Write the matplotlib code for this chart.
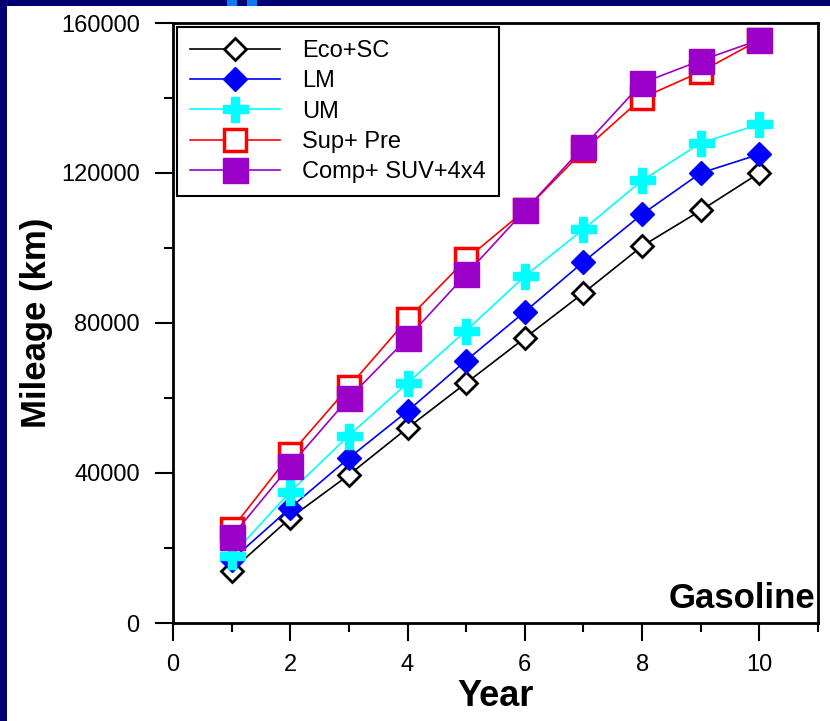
import matplotlib
matplotlib.use("Agg")
import matplotlib.pyplot as plt
from matplotlib.patches import Rectangle
from matplotlib.ticker import MultipleLocator

plt.rcParams['font.family'] = ['Liberation Sans', 'DejaVu Sans']

# Cumulative mileage by vehicle segment (gasoline)
years = [1, 2, 3, 4, 5, 6, 7, 8, 9, 10]
eco_sc = [14000, 28000, 39500, 52000, 64000, 76000, 88000, 100500, 110000, 120000]
lm = [16800, 30700, 44000, 56500, 70000, 83000, 96300, 109000, 120000, 125000]
um = [18000, 35000, 50000, 64000, 78000, 92500, 105000, 118000, 128000, 133000]
sup_pre = [25000, 45000, 63000, 81000, 97000, 110000, 126000, 140000, 147000, 155500]
comp_suv = [23000, 42000, 60000, 76000, 93000, 110000, 127000, 144000, 150000, 155500]

labels = ['Eco+SC', 'LM', 'UM', 'Sup+ Pre', 'Comp+ SUV+4x4']
x_ticks = [0, 2, 4, 6, 8, 10]
y_ticks = [0, 40000, 80000, 120000, 160000]

W, H = 830, 721
fig = plt.figure(figsize=(W / 100, H / 100), dpi=100, facecolor='#000070')

# white slide panel with navy frame strips and small accent squares
fig.patches.append(Rectangle((7 / W, 0), 1, (H - 6) / H, transform=fig.transFigure,
                             facecolor='white', edgecolor='none', zorder=-10))
for x0 in (227, 247):
    fig.patches.append(Rectangle((x0 / W, (H - 6) / H), 10 / W, 6 / H,
                                 transform=fig.transFigure,
                                 facecolor='#0a7cf0', edgecolor='none', zorder=-5))

ax = fig.add_axes([173 / W, 1 - 623 / H, (818 - 173) / W, 600 / H])
ax.set_facecolor('white')

ax.plot(years, eco_sc, color='black', lw=1.2, marker='D', ms=11.5,
        mfc='white', mec='black', mew=2, label=labels[0])
ax.plot(years, lm, color='#0000ff', lw=1.2, marker='D', ms=12,
        mfc='#0000ff', mec='#0000ff', label=labels[1])
ax.plot(years, um, color='#00ffff', lw=1.2, marker='P', ms=18,
        mfc='#00ffff', mec='#00ffff', label=labels[2])
ax.plot(years, sup_pre, color='#ff0000', lw=1.2, marker='s', ms=16,
        mfc='white', mec='#ff0000', mew=2.5, label=labels[3])
ax.plot(years, comp_suv, color='#9a00c8', lw=1.2, marker='s', ms=18,
        mfc='#9a00c8', mec='#9a00c8', label=labels[4])

ax.set_xlim(0, 11)
ax.set_ylim(0, 160000)
ax.set_xticks(x_ticks)
ax.set_xticklabels([str(v) for v in x_ticks])
ax.set_yticks(y_ticks)
ax.set_yticklabels([str(v) for v in y_ticks])
ax.xaxis.set_minor_locator(MultipleLocator(1))
ax.yaxis.set_minor_locator(MultipleLocator(20000))

for s in ax.spines.values():
    s.set_linewidth(2)
    s.set_color('black')
ax.tick_params(which='major', direction='out', length=13, width=1.5,
               labelsize=17, colors='black')
ax.tick_params(axis='y', which='major', pad=11)
ax.tick_params(axis='x', which='major', pad=9.5)
ax.tick_params(which='minor', direction='out', length=6.5, width=1.5)

ax.set_ylabel('Mileage (km)', fontsize=25, fontweight='bold')
ax.yaxis.set_label_coords((53 - 173) / 645, 0.5)
ax.set_xlabel('Year', fontsize=26, fontweight='bold')
ax.xaxis.set_label_coords(0.5, (623 - 679) / 600)
ax.xaxis.label.set_va('top')

ax.text(0.996, (623 - 608) / 600, 'Gasoline', transform=ax.transAxes,
        ha='right', va='baseline', fontsize=25, fontweight='bold')

leg = ax.legend(loc='upper left',
                bbox_to_anchor=((177 - 173) / 645, 1 - 4 / 600),
                borderaxespad=0, fontsize=17, handlelength=3.8,
                handletextpad=0.95, labelspacing=0.35, borderpad=0.55,
                frameon=True, fancybox=False, edgecolor='black',
                framealpha=1)
leg.get_frame().set_linewidth(1.5)

fig.savefig('out.png', dpi=100, facecolor=fig.get_facecolor())
